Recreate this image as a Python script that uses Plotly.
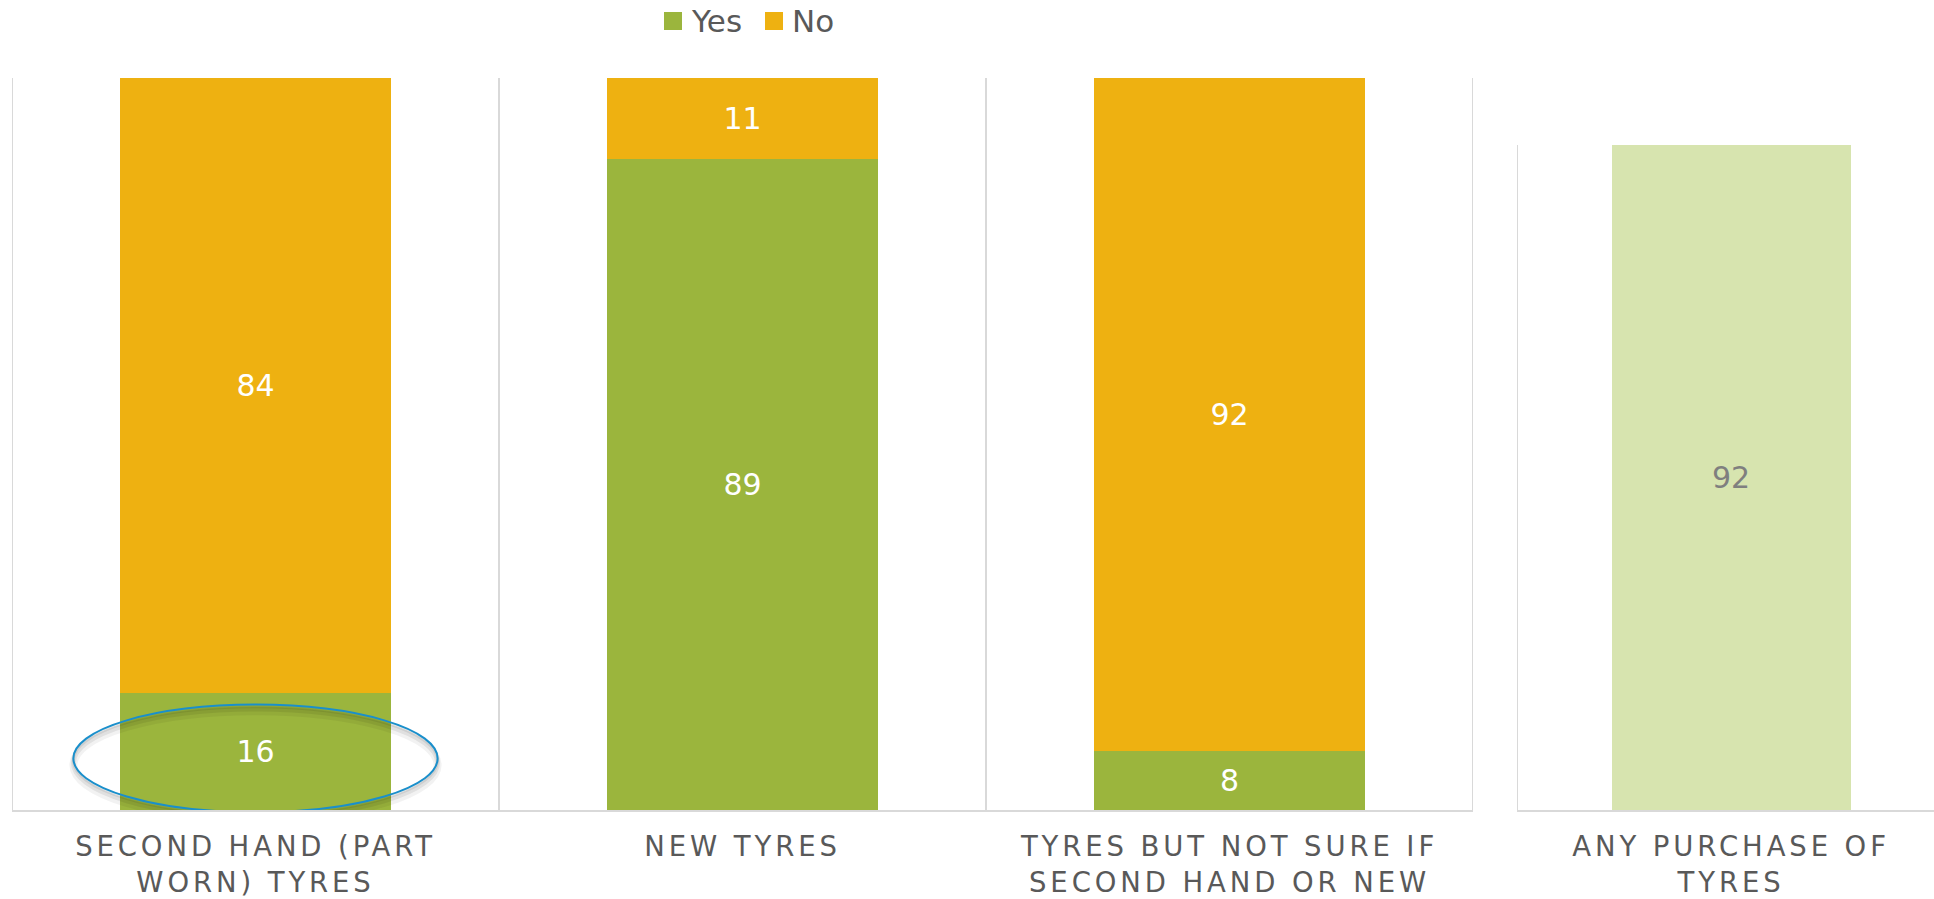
import plotly.graph_objects as go

# Survey categories and shares (%)
categories = ["SECOND HAND (PART<br>WORN) TYRES", "NEW TYRES",
              "TYRES BUT NOT SURE IF<br>SECOND HAND OR NEW"]
yes_values = [16, 89, 8]
no_values = [84, 11, 92]

total_category = ["ANY PURCHASE OF<br>TYRES"]
total_values = [92]

legend_names = ["Yes", "No"]

GREEN = "#9BB53D"
ORANGE = "#EEB111"
LIGHT_GREEN = "#D7E4AF"
GRID = "#D9D9D9"
TEXT = "#595959"
FONT = "DejaVu Sans, Verdana, sans-serif"

W, H = 1934, 899
left_x = [12 / W, 1473 / W]
right_x = [1517 / W, 1.0]
y_bottom = 1 - 810 / H
left_top = 1 - 78 / H
right_top = 1 - 145 / H

fig = go.Figure()

fig.add_trace(go.Bar(
    name=legend_names[0], x=categories, y=yes_values, marker_color=GREEN,
    marker_line_width=0, texttemplate="%{y}", textposition="inside",
    insidetextanchor="middle", textangle=0,
    textfont=dict(color="white", size=30, family=FONT),
    xaxis="x", yaxis="y"))
fig.add_trace(go.Bar(
    name=legend_names[1], x=categories, y=no_values, marker_color=ORANGE,
    marker_line_width=0, texttemplate="%{y}", textposition="inside",
    insidetextanchor="middle", textangle=0,
    textfont=dict(color="white", size=30, family=FONT),
    xaxis="x", yaxis="y"))
fig.add_trace(go.Bar(
    name="Any purchase", x=total_category, y=total_values,
    marker_color=LIGHT_GREEN, marker_line_width=0,
    texttemplate="%{y}", textposition="inside", insidetextanchor="middle",
    textangle=0, textfont=dict(color="#7F7F7F", size=30, family=FONT),
    xaxis="x2", yaxis="y2"))

axis_common = dict(showgrid=False, zeroline=False, ticks="",
                   showline=True, linecolor=GRID, linewidth=2,
                   tickfont=dict(size=27.5, color=TEXT, family=FONT),
                   ticklabelstandoff=11, automargin=False, fixedrange=True)

fig.update_layout(
    width=W, height=H,
    margin=dict(l=0, r=0, t=0, b=0, autoexpand=False),
    paper_bgcolor="white", plot_bgcolor="white",
    barmode="stack", bargap=0.442,
    font=dict(family=FONT, color=TEXT),
    xaxis=dict(domain=left_x, range=[-0.5, 2.5], anchor="y", **axis_common),
    yaxis=dict(domain=[y_bottom, left_top], range=[0, 100], visible=False,
               anchor="x", fixedrange=True, automargin=False),
    xaxis2=dict(domain=right_x, range=[-0.5, 0.474], anchor="y2", **axis_common),
    yaxis2=dict(domain=[y_bottom, right_top], range=[0, 92], visible=False,
                anchor="x2", fixedrange=True, automargin=False),
    showlegend=False,
)

# Vertical separators between categories
shapes = []
for xb in [-0.5, 0.5, 1.5, 2.5]:
    shapes.append(dict(type="line", xref="x", yref="y", x0=xb, x1=xb,
                       y0=0, y1=100, line=dict(color=GRID, width=2), layer="below"))
shapes.append(dict(type="line", xref="x2", yref="y2", x0=-0.5, x1=-0.5,
                   y0=0, y1=92, line=dict(color=GRID, width=2), layer="below"))

# Highlight ring around the second-hand "Yes" share, with a soft shadow
for off, alpha, w in [(0.9, 0.05, 8), (0.6, 0.07, 5), (0.3, 0.08, 3)]:
    shapes.append(dict(type="circle", xref="x", yref="y",
                       x0=-0.374, x1=0.374, y0=-0.3 - off, y1=14.4 - off,
                       line=dict(color=f"rgba(0,0,0,{alpha})", width=w)))
shapes.append(dict(type="circle", xref="x", yref="y",
                   x0=-0.374, x1=0.374, y0=-0.3, y1=14.4,
                   line=dict(color="#1A8FCB", width=2)))

# Legend keys: square swatch followed by the series name
annotations = []
for name, color, sx in [(legend_names[0], GREEN, 664), (legend_names[1], ORANGE, 765)]:
    shapes.append(dict(type="rect", xref="paper", yref="paper",
                       x0=sx / W, x1=(sx + 18) / W,
                       y0=1 - 30 / H, y1=1 - 12 / H,
                       fillcolor=color, line=dict(width=0)))
    annotations.append(dict(xref="paper", yref="paper", x=(sx + 25) / W,
                            y=1 - 21 / H, xanchor="left", yanchor="middle",
                            text=name, showarrow=False,
                            font=dict(size=31, color=TEXT, family=FONT)))

fig.update_layout(shapes=shapes, annotations=annotations)

# Spaced-out capitals for the category labels
post = """
var gd = document.getElementById('{plot_id}');
function spreadLabels() {
  gd.querySelectorAll('.xtick text, .x2tick text').forEach(function (t) {
    t.style.letterSpacing = '3.9px';
  });
}
spreadLabels();
gd.on('plotly_afterplot', spreadLabels);
"""

fig.write_html("out.html", post_script=post)
